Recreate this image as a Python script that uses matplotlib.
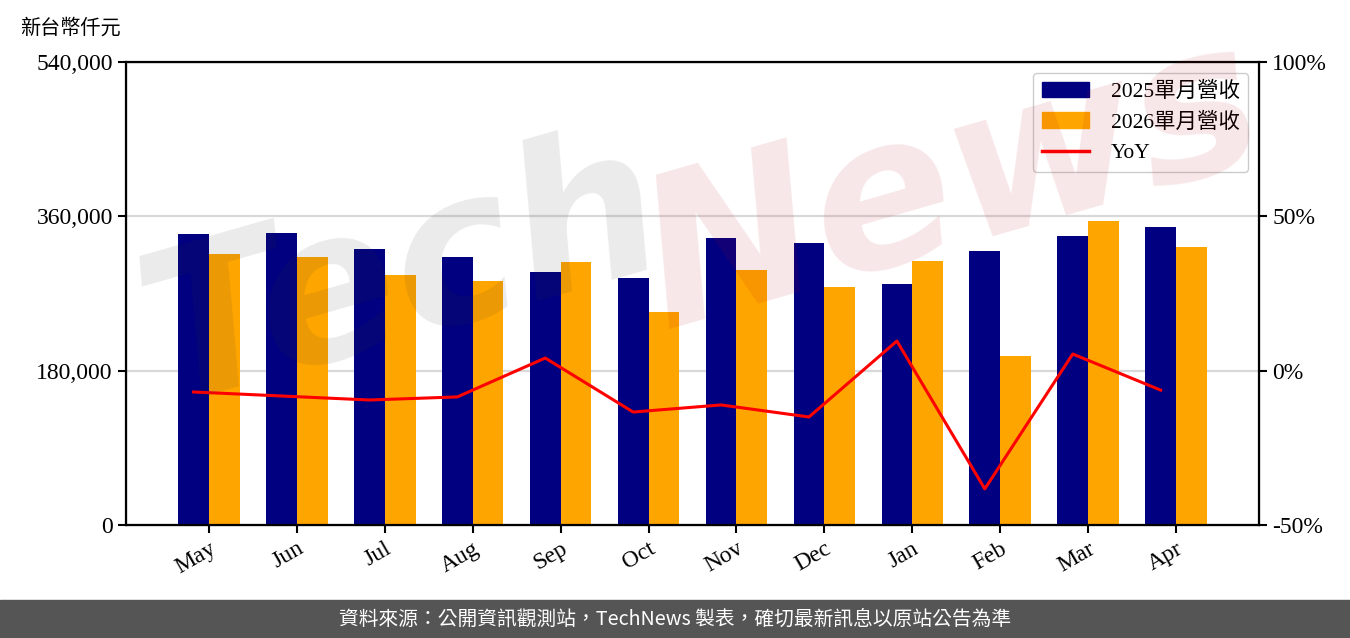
import numpy as np
import matplotlib
matplotlib.use("Agg")
import matplotlib.pyplot as plt
from matplotlib.ticker import FuncFormatter
import matplotlib.patches as mpatches

plt.rcParams["font.family"] = ["Liberation Serif", "Noto Sans CJK TC", "DejaVu Sans"]

months = ["May", "Jun", "Jul", "Aug", "Sep", "Oct", "Nov", "Dec", "Jan", "Feb", "Mar", "Apr"]
rev_2025 = [339400, 340600, 321900, 312600, 295100, 288100, 334700, 328900, 281100, 319600, 337100, 347600]
rev_2026 = [316100, 312600, 291600, 284600, 306700, 248400, 297400, 277600, 307900, 197100, 354600, 324200]
yoy_pct = [-6.9, -8.2, -9.5, -8.5, 4.1, -13.4, -11.1, -15.0, 9.6, -38.3, 5.4, -6.3]

NAVY = "#000080"
ORANGE = "#FFA500"
width = 0.35

fig = plt.figure(figsize=(13.5, 6.38), dpi=100)
ax = fig.add_axes([0.0933, 0.1771, 0.8393, 0.7257])
x = np.arange(len(months))

ax.bar(x - width / 2, rev_2025, width, color=NAVY, label="2025單月營收", zorder=2)
ax.bar(x + width / 2, rev_2026, width, color=ORANGE, label="2026單月營收", zorder=2)
ax.set_ylim(0, 540000)
ax.set_xlim(-0.944, 11.944)
ax.set_yticks([0, 180000, 360000, 540000])
ax.yaxis.set_major_formatter(FuncFormatter(lambda v, p: f"{int(v):,}"))
ax.grid(axis="y", color="#d9d9d9", lw=1.6, zorder=0)
ax.set_axisbelow(True)
ax.set_xticks(x)
ax.set_xticklabels(months, rotation=30, ha="right", rotation_mode="anchor")
ax.tick_params(labelsize=17, length=6, width=1.5)
for s in ax.spines.values():
    s.set_linewidth(1.6)

ax2 = ax.twinx()
ax2.plot(x - width / 2, yoy_pct, color="red", lw=2.2, label="YoY", zorder=3)
ax2.set_ylim(-50, 100)
ax2.set_yticks([-50, 0, 50, 100])
ax2.yaxis.set_major_formatter(FuncFormatter(lambda v, p: f"{int(v)}%"))
ax2.tick_params(labelsize=17, length=6, width=1.5)
ax2.set_xlim(-0.944, 11.944)

handles = [mpatches.Patch(color=NAVY, label="2025單月營收"),
           mpatches.Patch(color=ORANGE, label="2026單月營收"),
           plt.Line2D([], [], color="red", lw=2.5, label="YoY")]
leg = ax2.legend(handles=handles, loc="upper right", fontsize=15.5,
                 framealpha=1, edgecolor="#cccccc", handlelength=2.2,
                 borderaxespad=0.5, handletextpad=1.0, labelspacing=0.5)

fig.text(0.015, 0.955, "新台幣仟元", fontsize=14.5, ha="left", va="center")

# watermark
fig.text(0.09, 0.30, "Tech", fontsize=150, fontstyle="italic", fontweight="bold",
         family="DejaVu Sans", color="#373737", alpha=0.1, rotation=16,
         ha="left", va="bottom", zorder=10)
fig.text(0.46, 0.42, "News", fontsize=150, fontstyle="italic", fontweight="bold",
         family="DejaVu Sans", color="#c0101a", alpha=0.1, rotation=16,
         ha="left", va="bottom", zorder=10)

# footer band
fig.patches.append(mpatches.Rectangle((0, 0), 1, 38 / 638, transform=fig.transFigure,
                                      color="#555555", zorder=0))
fig.text(0.5, 19 / 638, "資料來源：公開資訊觀測站，TechNews 製表，確切最新訊息以原站公告為準",
         family=["Noto Sans CJK TC"], fontsize=14.2, color="white", ha="center", va="center")

fig.savefig("out.png", dpi=100)
